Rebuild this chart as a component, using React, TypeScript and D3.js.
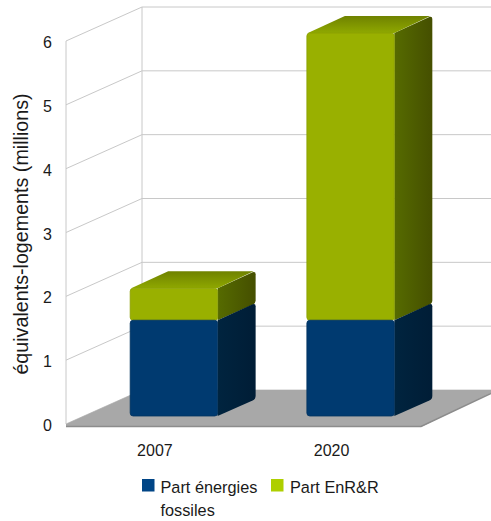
import React from "react";
import * as d3 from "d3";

const categories = ["2007", "2020"];
const fossiles = [1.5, 1.5];
const enr = [0.5, 4.5];
const yTicks = [0, 1, 2, 3, 4, 5, 6];
const seriesNames = ["Part énergies", "Part EnR&R"];

const W = 491, H = 521;
const frontX = 66, backX = 142;
const yFront = d3.scaleLinear().domain([0, 6]).range([424, 41]);
const yBack = d3.scaleLinear().domain([0, 6]).range([390, 7]);
const yBar = d3.scaleLinear().domain([0, 6]).range([416, 33]);
const xBar = d3.scaleBand().domain(categories).range([86, 438.5]).paddingInner(0.505).paddingOuter(0.25);
const depthX = 38, depthY = 17;
const FONT = "'Liberation Sans', Arial, sans-serif";

function Segment({ x, w, y0, y1, id, front, stroke, showTop }: any) {
  const r = 3;
  const h = y0 - y1;
  const sidePts = `M${x + w},${y1} L${x + w + depthX - r},${y1 - depthY + 1} Q${x + w + depthX},${y1 - depthY} ${x + w + depthX},${y1 - depthY + r} L${x + w + depthX},${y0 - depthY - r} Q${x + w + depthX},${y0 - depthY} ${x + w + depthX - r},${y0 - depthY + 1.5} L${x + w},${y0} Z`;
  const topPts = `M${x + 1},${y1} L${x + depthX},${y1 - depthY} L${x + w + depthX - 2},${y1 - depthY} L${x + w},${y1} Z`;
  return (
    <g>
      <path d={sidePts} fill={`url(#side-${id})`} />
      {showTop && <path d={topPts} fill={`url(#top-${id})`} />}
      <rect x={x} y={y1} width={w} height={h} rx={r} ry={r} fill={front} stroke={stroke} strokeWidth={0.8} />
    </g>
  );
}

export default function App() {
  const bw = xBar.bandwidth();
  return (
    <svg width={W} height={H} viewBox={`0 0 ${W} ${H}`}
      style={{ position: "absolute", left: 0, top: 0, display: "block", background: "#fff" }}>
      <defs>
        <linearGradient id="side-blue" x1="0" x2="1" y1="0" y2="0">
          <stop offset="0" stopColor="#00243f" />
          <stop offset="1" stopColor="#001d36" />
        </linearGradient>
        <linearGradient id="side-green" x1="0" x2="1" y1="0" y2="0">
          <stop offset="0" stopColor="#566b00" />
          <stop offset="1" stopColor="#454f00" />
        </linearGradient>
        <linearGradient id="top-green" x1="0" x2="0" y1="1" y2="0">
          <stop offset="0" stopColor="#8fa800" />
          <stop offset="1" stopColor="#6f8200" />
        </linearGradient>
        <linearGradient id="top-blue" x1="0" x2="0" y1="1" y2="0">
          <stop offset="0" stopColor="#003a70" />
          <stop offset="1" stopColor="#002f5a" />
        </linearGradient>
      </defs>

      {/* back wall and side wall */}
      <line x1={backX} x2={backX} y1={yBack(6)} y2={yBack(0)} stroke="#c8c8c8" />
      <line x1={frontX} x2={frontX} y1={yFront(6)} y2={yFront(0)} stroke="#c8c8c8" />
      {yTicks.map((t) => (
        <g key={t} stroke="#c8c8c8" strokeWidth={1}>
          <line x1={frontX} y1={yFront(t)} x2={backX} y2={yBack(t)} />
          <line x1={backX} y1={yBack(t)} x2={W} y2={yBack(t)} />
        </g>
      ))}

      {/* floor */}
      <path d={`M${frontX},${yFront(0) + 3} L${frontX},${yFront(0)} L${backX},${yBack(0)} L${W},${yBack(0)} L${W},${yBack(0) + 3} L421,427 Z`} fill="#a8a8a8" />
      <path d={`M${frontX},${yFront(0) + 2.5} L421,${yFront(0) + 2.5} L${W},${yBack(0) + 3.5}`} fill="none" stroke="#8c8c8c" strokeWidth={1.5} />

      {/* bars */}
      {categories.map((c, i) => {
        const x = xBar(c)!;
        const top1 = yBar(fossiles[i]);
        const top2 = yBar(fossiles[i] + enr[i]);
        return (
          <g key={c}>
            <Segment x={x} w={bw} y0={yBar(fossiles[i])} y1={top2} id="green" front="#99b000" stroke="#8a9f00" showTop />
            <Segment x={x} w={bw} y0={yBar(0)} y1={top1} id="blue" front="#003a70" stroke="#00325f" showTop={false} />
          </g>
        );
      })}

      {/* axis labels */}
      {yTicks.map((t) => (
        <text key={t} x={52} y={yFront(t) + 7} textAnchor="end" fontFamily={FONT} fontSize={16} fill="#1a1a1a">{t}</text>
      ))}
      {categories.map((c) => (
        <text key={c} x={xBar(c)! + bw / 2 - 19} y={456} textAnchor="middle" fontFamily={FONT} fontSize={16} fill="#1a1a1a">{c}</text>
      ))}
      <text transform="translate(28,234) rotate(-90)" textAnchor="middle" fontFamily={FONT} fontSize={19.7} fill="#1a1a1a">
        équivalents-logements (millions)
      </text>

      {/* legend */}
      <rect x={142} y={479} width={12.5} height={12.5} fill="#004586" />
      <text x={160.5} y={493} fontFamily={FONT} fontSize={16.3} fill="#1a1a1a">{seriesNames[0]}</text>
      <text x={160.5} y={516} fontFamily={FONT} fontSize={16.3} fill="#1a1a1a">fossiles</text>
      <rect x={271} y={479} width={12.5} height={12.5} fill="#aecf00" />
      <text x={290} y={493} fontFamily={FONT} fontSize={16.3} fill="#1a1a1a">{seriesNames[1]}</text>
    </svg>
  );
}
